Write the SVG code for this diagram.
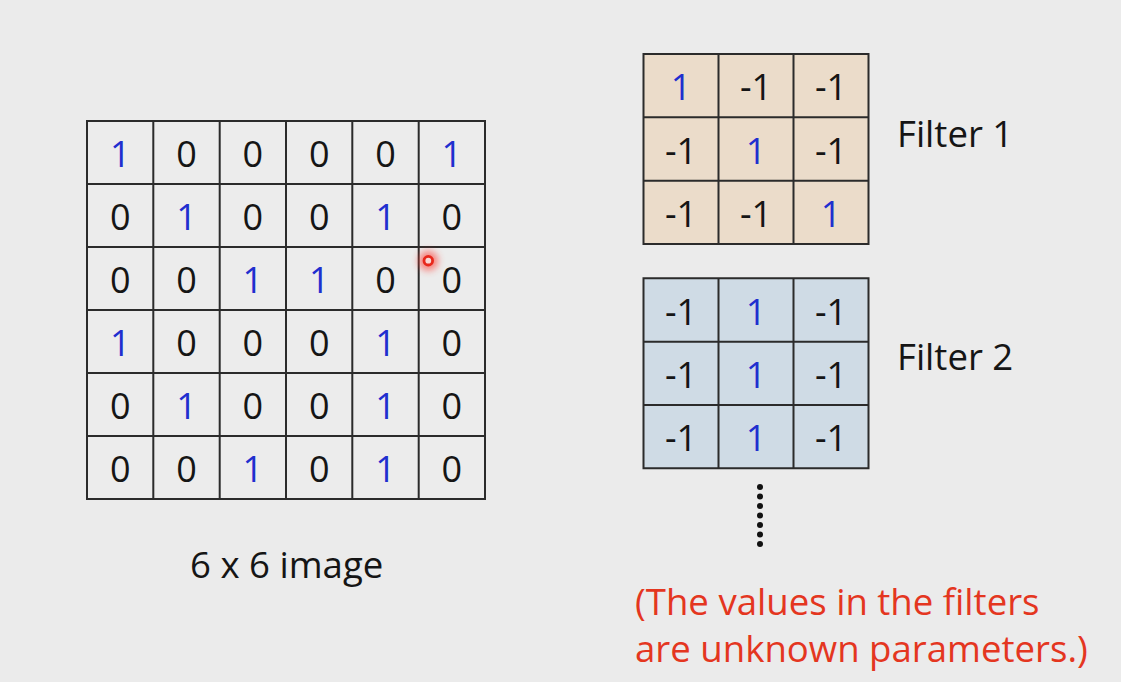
<svg xmlns="http://www.w3.org/2000/svg" width="1121" height="682" viewBox="0 0 1121 682">
  <defs>
    <style>
      .grid { stroke: #2b2b2b; stroke-width: 2; fill: none; }
      .num { font-family: "Open Sans", "Noto Sans", sans-serif; font-size: 36px; text-anchor: middle; fill: #151515; }
      .one { fill: #1f2fcf; }
      .label { font-family: "Open Sans", "Noto Sans", sans-serif; font-size: 36.6px; fill: #151515; }
      .note { font-family: "Open Sans", "Noto Sans", sans-serif; font-size: 36.6px; fill: #e4361f; }
    </style>
    <filter id="glow" x="-1" y="-1" width="3" height="3">
      <feGaussianBlur stdDeviation="3.5"/>
    </filter>
  </defs>

  <rect x="0" y="0" width="1121" height="682" fill="#ebebeb"/>

  <!-- 6 x 6 input image -->
  <g id="image">
    <rect x="87" y="121" width="398" height="378" fill="#ececec"/>
    <path class="grid" d="M87 121H485V499H87Z M153.3 121V499 M219.7 121V499 M286 121V499 M352.3 121V499 M418.7 121V499 M87 184H485 M87 247H485 M87 310H485 M87 373H485 M87 436H485"/>
    <g class="num">
      <text x="120.2" y="166.5" class="one">1</text><text x="186.5" y="166.5">0</text><text x="252.8" y="166.5">0</text><text x="319.2" y="166.5">0</text><text x="385.5" y="166.5">0</text><text x="451.8" y="166.5" class="one">1</text>
      <text x="120.2" y="229.5">0</text><text x="186.5" y="229.5" class="one">1</text><text x="252.8" y="229.5">0</text><text x="319.2" y="229.5">0</text><text x="385.5" y="229.5" class="one">1</text><text x="451.8" y="229.5">0</text>
      <text x="120.2" y="292.5">0</text><text x="186.5" y="292.5">0</text><text x="252.8" y="292.5" class="one">1</text><text x="319.2" y="292.5" class="one">1</text><text x="385.5" y="292.5">0</text><text x="451.8" y="292.5">0</text>
      <text x="120.2" y="355.5" class="one">1</text><text x="186.5" y="355.5">0</text><text x="252.8" y="355.5">0</text><text x="319.2" y="355.5">0</text><text x="385.5" y="355.5" class="one">1</text><text x="451.8" y="355.5">0</text>
      <text x="120.2" y="418.5">0</text><text x="186.5" y="418.5" class="one">1</text><text x="252.8" y="418.5">0</text><text x="319.2" y="418.5">0</text><text x="385.5" y="418.5" class="one">1</text><text x="451.8" y="418.5">0</text>
      <text x="120.2" y="481.5">0</text><text x="186.5" y="481.5">0</text><text x="252.8" y="481.5" class="one">1</text><text x="319.2" y="481.5">0</text><text x="385.5" y="481.5" class="one">1</text><text x="451.8" y="481.5">0</text>
    </g>
    <text class="label" x="190" y="578">6 x 6 image</text>
  </g>

  <!-- pointer mark -->
  <g id="pointer">
    <circle cx="428.3" cy="260.7" r="10" fill="#ff3b30" opacity="0.6" filter="url(#glow)"/>
    <circle cx="428.3" cy="260.7" r="4.3" fill="#f8d8d4" stroke="#e8281c" stroke-width="2.8"/>
  </g>

  <!-- Filter 1 -->
  <g id="filter1">
    <rect x="643.5" y="54" width="225" height="190" fill="#ebdcca"/>
    <path class="grid" d="M643.5 54H868.5V244H643.5Z M718.5 54V244 M793.5 54V244 M643.5 117.3H868.5 M643.5 180.7H868.5"/>
    <g class="num">
      <text x="681" y="100.4" class="one">1</text><text x="756" y="100.4">-1</text><text x="831" y="100.4">-1</text>
      <text x="681" y="163.7">-1</text><text x="756" y="163.7" class="one">1</text><text x="831" y="163.7">-1</text>
      <text x="681" y="227">-1</text><text x="756" y="227">-1</text><text x="831" y="227" class="one">1</text>
    </g>
    <text class="label" x="897" y="147">Filter 1</text>
  </g>

  <!-- Filter 2 -->
  <g id="filter2">
    <rect x="643.5" y="278.3" width="225" height="190" fill="#cfdbe5"/>
    <path class="grid" d="M643.5 278.3H868.5V468.3H643.5Z M718.5 278.3V468.3 M793.5 278.3V468.3 M643.5 341.7H868.5 M643.5 405H868.5"/>
    <g class="num">
      <text x="681" y="324.7">-1</text><text x="756" y="324.7" class="one">1</text><text x="831" y="324.7">-1</text>
      <text x="681" y="388">-1</text><text x="756" y="388" class="one">1</text><text x="831" y="388">-1</text>
      <text x="681" y="451.3">-1</text><text x="756" y="451.3" class="one">1</text><text x="831" y="451.3">-1</text>
    </g>
    <text class="label" x="897" y="370">Filter 2</text>
  </g>

  <!-- more filters -->
  <g id="ellipsis" fill="#111">
    <circle cx="760" cy="487" r="3"/>
    <circle cx="760" cy="496.5" r="3"/>
    <circle cx="760" cy="506" r="3"/>
    <circle cx="760" cy="515.5" r="3"/>
    <circle cx="760" cy="525" r="3"/>
    <circle cx="760" cy="534.5" r="3"/>
    <circle cx="760" cy="544" r="3"/>
  </g>

  <g id="note" class="note">
    <text x="635" y="615">(The values in the filters</text>
    <text x="635" y="662">are unknown parameters.)</text>
  </g>
</svg>
